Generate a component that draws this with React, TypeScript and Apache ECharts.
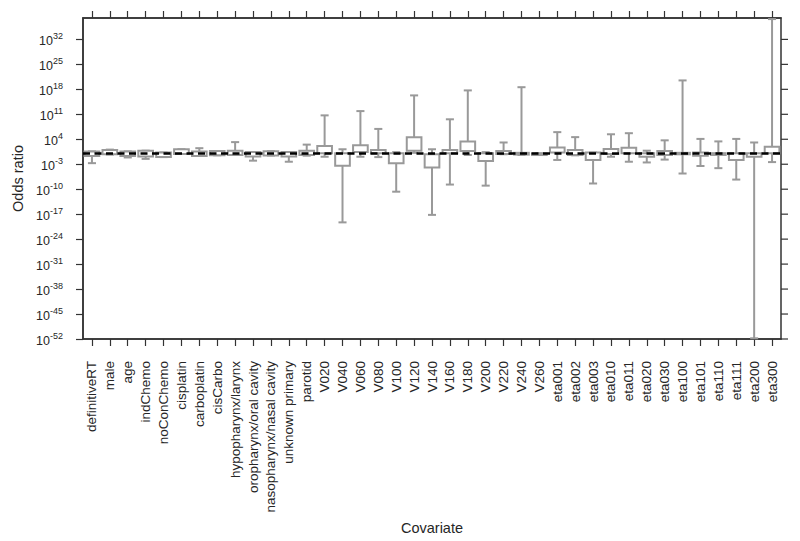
import React, { useEffect, useRef } from "react";
import * as echarts from "echarts";

// Covariate names (x axis categories)
const categories: string[] = [
  "definitiveRT", "male", "age", "indChemo", "noConChemo", "cisplatin", "carboplatin", "cisCarbo",
  "hypopharynx/larynx", "oropharynx/oral cavity", "nasopharynx/nasal cavity", "unknown primary", "parotid",
  "V020", "V040", "V060", "V080", "V100", "V120", "V140", "V160", "V180", "V200", "V220", "V240", "V260",
  "eta001", "eta002", "eta003", "eta010", "eta011", "eta020", "eta030", "eta100", "eta101", "eta110",
  "eta111", "eta200", "eta300",
];

// log10(odds ratio) values
const whiskerLow: number[] = [
  -2.7, -0.3, -1.1, -1.5, -1.0, -0.1, -0.7, -0.5, -0.4, -2.0, -0.55, -2.3, -0.6,
  -0.9, -19.3, -0.9, -1.0, -10.7, 0.2, -17.2, -8.7, -0.4, -9.0, -0.2, -0.4, 0,
  -1.8, -0.5, -8.4, -0.9, -2.3, -2.5, -1.7, -5.6, -3.5, -4.1, -7.3, -51.8, -2.4,
];
const boxLow: number[] = [
  -0.7, -0.2, -0.7, -0.8, -1.0, -0.1, -0.7, -0.5, -0.4, -0.8, -0.55, -0.8, -0.4,
  0.1, -3.4, 0.4, 0.1, -2.7, 0.8, -3.9, 0.1, 0.7, -2.1, -0.1, -0.3, 0,
  0.3, -0.4, -1.8, -0.1, 0.1, -0.9, -0.4, -0.2, -0.6, -0.4, -1.8, -0.9, 0.1,
];
const boxHigh: number[] = [
  0.6, 1.0, 0.6, 0.8, 0.3, 1.2, 0.6, 0.7, 0.8, 0.4, 0.65, 0.4, 0.8,
  2.1, 0.1, 2.3, 1.0, 0.1, 4.6, -0.2, 1.0, 3.4, 0.1, 0.7, 0.2, 0,
  1.7, 1.0, 0.3, 1.3, 1.6, 0.1, 0.7, 0.2, 0.3, 0.1, 0.1, 0.1, 1.9,
];
const whiskerHigh: number[] = [
  0.6, 1.1, 0.6, 0.8, 0.3, 1.2, 1.5, 0.7, 3.2, 0.4, 0.65, 0.4, 2.5,
  10.7, 1.2, 11.9, 6.9, 0.4, 16.3, 1.2, 9.6, 17.7, 0.4, 3.1, 18.6, 0,
  6.0, 4.6, 0.3, 5.4, 5.7, 0.8, 3.7, 20.5, 4.1, 3.4, 4.1, 3.1, 37.7,
];

// y axis: exponents of ten
const expMin = -52;
const expMax = 38;
const expStep = 7;
const tickExponents: number[] = [-52, -45, -38, -31, -24, -17, -10, -3, 4, 11, 18, 25, 32];

const GRAY = "#999999";
const TEXT = "#262626";
const AXIS = "#333333";
const FONT = "'Liberation Sans', Arial, sans-serif";

export default function App() {
  const ref = useRef<HTMLDivElement>(null);

  useEffect(() => {
    if (!ref.current) return;
    const chart = echarts.init(ref.current, undefined, { renderer: "svg" });
    const off = -expMin; // shift so axis min is 0
    const data = categories.map((_, i) => [
      i,
      whiskerLow[i] + off,
      boxLow[i] + off,
      boxHigh[i] + off,
      whiskerHigh[i] + off,
    ]);
    const tickVals = tickExponents.map((e) => e + off);

    const yLabel = {
      show: true,
      margin: 20,
      customValues: tickVals,
      formatter: (v: number) => {
        const e = Math.round(v - off);
        if (!tickExponents.includes(e)) return "";
        return `{b|10}{s|${e}}`;
      },
      rich: {
        b: { fontSize: 12.5, fontFamily: FONT, color: TEXT, verticalAlign: "bottom", padding: [3, 0, 0, 0] },
        s: { fontSize: 9, fontFamily: FONT, color: TEXT, verticalAlign: "top" },
      },
    };

    const tickStyle = { color: AXIS, width: 1.2 };
    const lineStyle = { color: AXIS, width: 1.5 };

    const option: any = {
      animation: false,
      backgroundColor: "#ffffff",
      grid: {
        left: 83, right: 19, top: 18, bottom: 202, containLabel: false,
        show: true, borderColor: AXIS, borderWidth: 1.5, backgroundColor: "transparent",
      },
      xAxis: [
        {
          type: "category",
          data: categories,
          position: "bottom",
          boundaryGap: true,
          name: "Covariate",
          nameLocation: "middle",
          nameGap: 178,
          nameTextStyle: { fontSize: 14.5, fontFamily: FONT, color: TEXT },
          axisLine: { show: true, onZero: false, lineStyle },
          axisTick: { show: true, interval: 0, alignWithLabel: true, length: 7, inside: false, lineStyle: tickStyle },
          axisLabel: { rotate: 90, interval: 0, margin: 22, fontSize: 13.5, fontFamily: FONT, color: TEXT },
          splitLine: { show: false },
        },
        {
          type: "category",
          data: categories,
          position: "top",
          boundaryGap: true,
          axisLine: { show: true, onZero: false, lineStyle },
          axisTick: { show: true, interval: 0, alignWithLabel: true, length: 7, inside: false, lineStyle: tickStyle },
          axisLabel: { show: false, interval: 0 },
          splitLine: { show: false },
        },
      ],
      yAxis: [
        {
          type: "value",
          position: "left",
          min: 0,
          max: expMax - expMin,
          interval: expStep,
          name: "Odds ratio",
          nameLocation: "middle",
          nameGap: 58,
          nameTextStyle: { fontSize: 14.5, fontFamily: FONT, color: TEXT },
          axisLine: { show: true, onZero: false, lineStyle },
          axisTick: { show: true, length: 7, inside: false, customValues: tickVals, lineStyle: tickStyle },
          axisLabel: yLabel,
          splitLine: { show: false },
        },
      ],
      series: [
        {
          type: "custom",
          xAxisIndex: 0,
          yAxisIndex: 0,
          data,
          renderItem: (params: any, api: any) => {
            const x = api.value(0);
            const pLo = api.coord([x, api.value(1)]);
            const pQ1 = api.coord([x, api.value(2)]);
            const pQ3 = api.coord([x, api.value(3)]);
            const pHi = api.coord([x, api.value(4)]);
            const band = api.size([1, 0])[0];
            const bw = band * 0.82;
            const cw = band * 0.45;
            const cx = pLo[0];
            const ls = { stroke: GRAY, lineWidth: 2, fill: null };
            const top = Math.min(pQ1[1], pQ3[1]);
            const h = Math.max(Math.abs(pQ1[1] - pQ3[1]), 1.5);
            return {
              type: "group",
              children: [
                { type: "line", shape: { x1: cx, y1: pQ3[1], x2: cx, y2: pHi[1] }, style: ls },
                { type: "line", shape: { x1: cx, y1: pQ1[1], x2: cx, y2: pLo[1] }, style: ls },
                { type: "line", shape: { x1: cx - cw / 2, y1: pHi[1], x2: cx + cw / 2, y2: pHi[1] }, style: ls },
                { type: "line", shape: { x1: cx - cw / 2, y1: pLo[1], x2: cx + cw / 2, y2: pLo[1] }, style: ls },
                {
                  type: "rect",
                  shape: { x: cx - bw / 2, y: top, width: bw, height: h },
                  style: { fill: "#ffffff", stroke: GRAY, lineWidth: 2 },
                },
              ],
            };
          },
          markLine: {
            silent: true,
            symbol: ["none", "none"],
            label: { show: false },
            z: 10,
            lineStyle: { color: "#000000", width: 2.5, type: [7, 4.5] },
            data: [{ yAxis: off }],
          },
          z: 2,
        },
        {
          // right-hand frame ticks at the same positions as the left axis, pointing outward
          type: "custom",
          xAxisIndex: 0,
          yAxisIndex: 0,
          silent: true,
          clip: false,
          z: 6,
          data: tickVals.map((v) => [categories.length - 1, v]),
          renderItem: (params: any, api: any) => {
            const p = api.coord([api.value(0), api.value(1)]);
            const half = api.size([1, 0])[0] / 2;
            const right = p[0] + half;
            return {
              type: "line",
              shape: { x1: right, y1: p[1], x2: right + 7, y2: p[1] },
              style: { stroke: AXIS, lineWidth: 1.2 },
            };
          },
        },
      ],
    };
    chart.setOption(option);
    return () => chart.dispose();
  }, []);

  return (
    <div
      ref={ref}
      style={{ position: "fixed", left: 0, top: 0, width: 800, height: 541, background: "#fff" }}
    />
  );
}
